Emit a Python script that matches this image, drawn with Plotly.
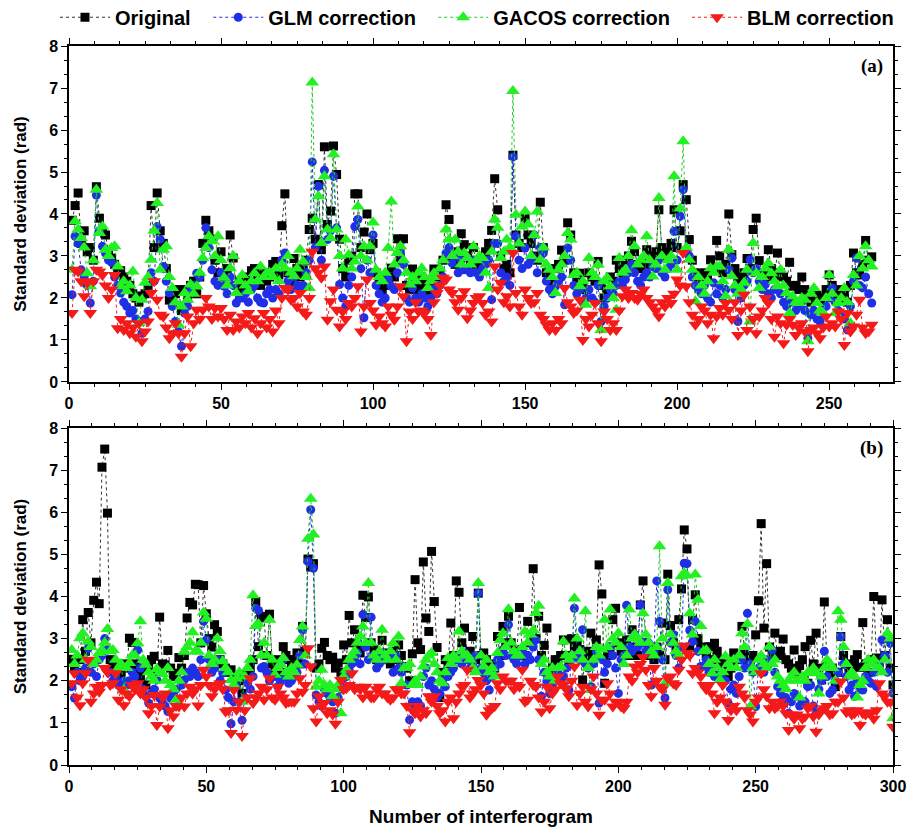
import plotly.graph_objects as go

# ---------------- Panel (a) data: standard deviation (rad), interferograms 1..264
O_a = [3.85, 4.2, 4.5, 3.3, 3.6, 3.1, 3.2, 2.9, 4.65, 3.9,
       3.6, 3.5, 3.1, 2.95, 2.8, 2.6, 2.65, 2.5, 2.4, 2.3,
       2.1, 2.0, 1.9, 2.05, 2.1, 2.3, 4.2, 3.2, 4.5, 3.6,
       3.3, 2.7, 1.95, 1.9, 2.1, 2.2, 1.7, 2.2, 2.0, 2.3,
       2.4, 2.1, 2.5, 3.3, 3.85, 3.6, 3.4, 2.9, 2.6, 3.1,
       2.5, 2.7, 3.5, 2.95, 2.3, 2.4, 2.2, 2.5, 2.4, 2.65,
       2.7, 2.5, 2.3, 2.6, 2.4, 2.5, 2.8, 2.87, 2.55, 3.72,
       4.48, 2.6, 2.4, 2.94, 2.7, 2.5, 2.67, 2.9, 3.63, 3.9,
       3.4, 4.7, 3.15, 5.6, 3.75, 4.07, 5.62, 4.94, 3.4, 2.7,
       2.5, 2.9, 3.0, 4.48, 4.48, 3.2, 3.57, 4.0, 3.15, 3.3,
       2.6, 2.4, 2.2, 2.5, 2.3, 2.71, 2.5, 3.41, 2.9, 3.41,
       2.3, 2.2, 2.69, 2.4, 2.2, 2.5, 2.3, 2.1, 2.4, 2.69,
       2.5, 2.6, 2.9, 4.22, 3.87, 3.0, 2.8, 3.1, 3.53, 3.27,
       3.0, 2.9, 3.2, 2.8, 2.7, 2.9, 3.1, 3.3, 3.61, 4.84,
       4.1, 3.0, 2.7, 2.8, 2.6, 5.4, 3.5, 3.3, 3.2, 3.9,
       3.5, 3.3, 3.0, 2.9, 4.28, 3.2, 2.6, 2.5, 2.4, 2.7,
       2.8, 3.14, 2.9, 3.79, 3.5, 2.6, 2.4, 2.59, 2.3, 2.2,
       2.6, 2.5, 2.4, 2.87, 2.3, 2.0, 2.2, 2.5, 2.4, 2.9,
       2.7, 2.6, 2.9, 3.0, 3.35, 3.1, 2.8, 2.7, 2.9, 3.15,
       2.8, 3.0, 3.1, 4.1, 3.2, 3.0, 3.1, 3.3, 4.1, 3.2,
       3.6, 4.7, 4.34, 3.39, 2.9, 2.6, 2.5, 2.4, 2.6, 2.5,
       2.91, 2.7, 3.37, 3.0, 2.6, 2.8, 4.0, 3.03, 2.7, 2.5,
       2.4, 2.6, 2.94, 2.7, 3.63, 3.9, 2.89, 2.6, 2.5, 3.15,
       2.7, 2.5, 3.07, 2.6, 2.5, 2.4, 2.85, 2.28, 2.3, 2.2,
       2.5, 2.2, 2.0, 1.9, 2.1, 2.06, 2.0, 1.9, 2.2, 2.55,
       2.3, 2.1, 2.2, 2.0, 2.1, 1.9, 2.3, 3.07, 2.6, 2.55,
       2.8, 3.37, 2.9, 2.98]

G_a = [2.08, 3.47, 3.3, 2.67, 2.5, 2.3, 1.88, 2.4, 4.45, 3.6,
       3.23, 3.07, 2.9, 2.85, 2.5, 2.3, 2.12, 1.9, 1.8, 1.64,
       1.7, 1.5, 1.44, 1.16, 1.5, 1.68, 2.6, 2.4, 3.7, 3.4,
       2.75, 2.4, 2.12, 1.8, 1.44, 1.2, 0.85, 1.64, 1.8, 2.2,
       2.3, 2.59, 2.5, 2.9, 3.67, 3.2, 2.67, 2.4, 2.3, 2.6,
       2.28, 2.1, 2.5, 2.3, 1.88, 2.0, 2.0, 2.1, 1.9, 2.2,
       2.3, 2.0, 1.9, 1.88, 2.1, 2.2, 2.0, 2.2, 2.1, 2.9,
       3.07, 2.4, 2.2, 2.5, 2.3, 2.2, 2.3, 2.6, 2.9, 5.24,
       3.2, 4.66, 2.9, 5.04, 3.39, 3.6, 4.9, 3.67, 2.32, 2.0,
       1.8, 2.3, 2.5, 3.7, 3.87, 2.7, 1.53, 2.9, 2.6, 3.5,
       2.3, 2.1, 1.9, 2.0, 2.44, 2.28, 2.2, 2.6, 3.07, 2.8,
       2.0, 1.9, 2.24, 2.0, 1.9, 2.1, 2.0, 1.8, 2.0, 2.2,
       2.1, 2.3, 2.5, 3.07, 3.2, 2.83, 3.0, 2.6, 2.9, 2.67,
       2.7, 2.6, 2.9, 2.6, 2.5, 2.7, 2.8, 2.91, 1.96, 3.3,
       3.3, 2.6, 2.4, 2.5, 2.3, 5.36, 3.47, 2.9, 2.7, 3.19,
       2.8, 2.9, 3.5, 2.6, 3.2, 3.07, 2.4, 2.2, 2.1, 2.28,
       2.4, 2.5, 1.84, 3.19, 2.9, 2.3, 2.1, 2.2, 1.9, 2.0,
       2.2, 2.0, 1.9, 2.3, 1.44, 1.8, 2.0, 2.2, 2.1, 2.3,
       2.4, 2.3, 2.44, 2.6, 2.8, 2.6, 2.4, 2.3, 2.5, 2.6,
       2.5, 2.75, 2.7, 2.9, 2.6, 2.5, 2.7, 2.8, 3.59, 2.9,
       3.95, 4.58, 3.15, 3.0, 2.5, 2.3, 2.2, 2.1, 2.3, 2.0,
       1.9, 2.36, 2.1, 2.3, 2.0, 2.2, 2.67, 2.95, 2.2, 1.44,
       2.0, 2.3, 2.4, 2.91, 2.6, 2.7, 2.4, 2.2, 2.32, 2.1,
       2.0, 2.2, 2.24, 2.1, 1.9, 1.8, 2.0, 1.9, 1.7, 1.8,
       1.9, 1.7, 1.04, 1.6, 1.7, 1.5, 1.44, 1.6, 1.8, 2.0,
       2.24, 1.9, 1.7, 1.6, 1.5, 1.24, 1.8, 2.4, 2.95, 2.3,
       2.24, 2.5, 2.1, 1.88]

C_a = [2.67, 3.83, 3.63, 3.43, 3.2, 2.59, 2.28, 2.9, 4.58, 3.55,
       3.7, 3.15, 3.0, 3.19, 3.23, 2.75, 2.28, 2.4, 2.16, 2.3,
       2.63, 2.0, 1.4, 1.96, 2.36, 2.5, 2.91, 3.6, 4.26, 2.67,
       3.15, 3.23, 2.5, 2.24, 1.9, 1.36, 1.8, 2.12, 1.96, 2.32,
       2.1, 2.28, 2.6, 2.95, 3.19, 3.47, 3.35, 3.0, 3.47, 2.9,
       2.48, 2.3, 2.71, 3.0, 2.12, 2.4, 2.55, 2.3, 2.16, 2.4,
       2.59, 2.4, 2.75, 2.5, 2.59, 2.6, 2.5, 2.7, 2.4, 2.8,
       2.71, 3.0, 2.6, 2.52, 2.7, 3.15, 2.87, 2.5, 2.24, 7.13,
       3.87, 4.42, 3.31, 4.9, 3.63, 3.43, 5.42, 3.63, 3.0, 2.7,
       3.39, 3.03, 2.7, 2.87, 4.18, 3.0, 3.23, 2.9, 3.23, 3.8,
       2.67, 2.5, 2.4, 2.6, 3.19, 4.3, 2.8, 3.07, 3.23, 2.9,
       2.6, 2.32, 2.5, 2.4, 2.6, 2.71, 2.5, 2.24, 2.4, 2.59,
       2.5, 2.7, 2.9, 3.63, 3.39, 3.0, 3.39, 3.1, 2.8, 3.07,
       2.95, 2.8, 3.23, 2.9, 3.0, 2.95, 2.6, 2.24, 3.1, 3.87,
       3.67, 2.95, 3.1, 3.39, 3.2, 6.93, 3.98, 3.3, 3.7, 4.06,
       3.75, 3.0, 3.5, 4.06, 2.91, 3.2, 2.8, 2.67, 2.5, 2.12,
       2.67, 2.8, 3.0, 3.55, 3.39, 2.55, 2.6, 2.28, 2.4, 1.84,
       2.95, 2.6, 2.5, 2.79, 1.24, 2.4, 2.48, 2.28, 2.0, 1.72,
       2.95, 2.6, 2.67, 3.0, 3.61, 3.23, 2.8, 2.91, 3.0, 3.47,
       2.9, 2.51, 2.8, 4.38, 3.0, 2.67, 2.9, 3.0, 4.9, 2.67,
       4.13, 5.73, 3.2, 2.91, 2.67, 1.92, 2.5, 2.3, 2.1, 2.4,
       2.71, 2.6, 2.75, 2.75, 2.4, 2.04, 3.15, 2.52, 2.3, 2.1,
       2.2, 2.36, 2.67, 1.44, 3.31, 2.59, 2.24, 2.5, 2.7, 2.83,
       2.59, 2.4, 2.28, 2.67, 2.3, 2.12, 1.64, 2.04, 1.9, 1.88,
       2.0, 1.96, 0.97, 2.1, 2.24, 1.88, 1.7, 1.64, 2.0, 2.55,
       2.1, 1.64, 1.88, 2.0, 2.24, 1.9, 1.4, 2.55, 2.3, 3.0,
       2.7, 3.23, 2.9, 2.75]

B_a = [1.64, 2.67, 2.63, 2.4, 2.04, 2.36, 1.64, 2.4, 2.67, 2.63,
       2.55, 2.3, 2.0, 2.2, 2.55, 1.28, 1.5, 1.24, 1.4, 1.16,
       1.3, 1.08, 1.4, 0.97, 1.2, 1.44, 2.12, 2.4, 1.96, 1.6,
       1.56, 1.3, 1.04, 1.16, 1.4, 1.16, 0.6, 1.16, 1.56, 0.85,
       1.4, 1.72, 1.5, 1.72, 2.0, 1.8, 1.5, 1.76, 1.56, 1.76,
       1.5, 1.24, 1.6, 1.24, 1.44, 1.3, 1.56, 1.4, 1.64, 1.3,
       1.52, 1.16, 1.4, 1.64, 1.3, 1.5, 1.2, 1.7, 1.4, 2.0,
       2.24, 2.2, 1.96, 2.0, 1.8, 2.12, 1.68, 1.6, 2.0, 3.1,
       2.71, 2.6, 2.48, 2.75, 1.48, 1.92, 2.2, 1.72, 1.32, 1.68,
       1.5, 1.88, 1.8, 2.0, 2.28, 1.2, 1.8, 2.44, 1.88, 1.7,
       1.36, 1.56, 1.4, 1.32, 1.8, 1.6, 1.48, 1.8, 2.28, 2.04,
       0.97, 1.68, 1.5, 1.9, 1.68, 1.7, 1.64, 1.5, 1.12, 1.9,
       2.12, 2.3, 2.48, 2.44, 2.2, 2.12, 1.9, 1.72, 2.0, 2.16,
       1.52, 1.7, 1.88, 2.0, 2.04, 1.88, 1.6, 1.68, 1.44, 2.75,
       2.2, 2.36, 1.9, 2.04, 1.8, 3.07, 2.12, 1.8, 1.6, 2.2,
       2.0, 1.88, 1.9, 2.12, 1.6, 1.5, 1.36, 1.24, 1.4, 1.24,
       1.5, 1.4, 2.24, 1.9, 1.8, 1.64, 1.7, 1.96, 1.0, 1.5,
       1.32, 1.6, 1.88, 1.4, 0.97, 1.68, 1.5, 1.24, 1.4, 1.24,
       1.7, 2.04, 2.2, 2.0, 2.12, 2.0, 1.96, 2.1, 2.2, 2.0,
       1.9, 1.8, 1.7, 1.56, 1.9, 1.8, 2.0, 1.88, 2.1, 2.44,
       2.3, 3.07, 2.28, 1.9, 1.6, 1.36, 1.5, 1.8, 1.7, 1.4,
       1.6, 1.04, 1.56, 1.76, 1.6, 1.88, 1.72, 1.5, 1.9, 1.12,
       1.7, 2.08, 1.24, 1.8, 1.5, 1.16, 1.56, 1.7, 2.0, 1.88,
       1.5, 1.08, 1.56, 1.4, 0.92, 1.36, 1.5, 1.36, 1.12, 1.3,
       1.4, 1.2, 0.73, 1.24, 1.3, 1.16, 1.04, 1.3, 1.56, 1.32,
       1.4, 1.32, 1.68, 1.5, 0.88, 1.64, 1.2, 1.32, 1.6, 1.96,
       1.3, 1.16, 1.2, 1.36]

# ---------------- Panel (b) data: interferograms 1..300
O_b = [2.51, 2.3, 2.2, 2.5, 3.45, 2.7, 3.62, 2.9, 3.91, 4.34,
       3.83, 7.07, 7.5, 5.98, 2.5, 2.4, 2.3, 2.2, 2.1, 2.4,
       2.3, 3.01, 2.91, 2.4, 2.2, 2.1, 2.3, 1.9, 2.34, 2.5,
       2.58, 2.2, 3.51, 2.4, 2.38, 2.72, 2.3, 2.1, 2.18, 2.55,
       2.3, 2.6, 3.49, 3.86, 3.8, 4.29, 4.28, 2.9, 4.26, 3.59,
       3.0, 2.8, 3.33, 3.17, 2.5, 2.4, 2.3, 2.2, 2.26, 2.1,
       1.9, 2.0, 1.7, 2.1, 2.2, 2.3, 2.5, 3.88, 2.81, 3.53,
       3.49, 2.6, 3.58, 2.4, 2.3, 2.5, 2.2, 2.81, 2.6, 2.5,
       2.3, 2.5, 2.66, 2.4, 3.29, 2.7, 4.89, 4.7, 4.78, 2.3,
       2.4, 2.77, 2.91, 2.6, 2.5, 2.56, 2.3, 2.42, 2.2, 2.85,
       2.5, 3.55, 2.9, 3.21, 2.8, 2.66, 4.03, 3.5, 3.99, 2.9,
       2.74, 2.5, 2.6, 2.96, 2.5, 2.66, 2.4, 2.7, 2.5, 2.85,
       2.6, 2.34, 2.3, 2.0, 2.64, 4.4, 2.9, 2.74, 4.82, 3.49,
       3.17, 5.07, 3.88, 2.79, 1.6, 2.2, 2.5, 2.4, 3.37, 2.6,
       4.37, 4.1, 2.9, 3.25, 2.6, 2.7, 3.05, 2.5, 4.08, 2.6,
       2.66, 2.5, 2.4, 2.34, 2.3, 3.05, 2.6, 3.29, 2.9, 3.53,
       2.9, 2.7, 2.6, 3.74, 2.74, 2.6, 3.41, 2.9, 4.66, 3.0,
       3.53, 2.6, 2.84, 3.25, 2.1, 2.3, 2.5, 2.5, 2.6, 2.97,
       2.6, 2.4, 3.0, 2.8, 2.9, 2.74, 2.02, 2.5, 2.7, 3.13,
       2.6, 2.97, 4.75, 4.06, 1.94, 2.6, 2.8, 3.45, 3.72, 2.9,
       2.7, 2.8, 2.97, 2.6, 3.21, 2.8, 2.6, 3.8, 4.37, 2.9,
       2.6, 2.74, 2.5, 2.8, 2.6, 3.37, 2.5, 4.53, 3.31, 2.9,
       2.7, 3.45, 4.18, 5.58, 5.13, 2.8, 3.45, 4.04, 3.0, 2.8,
       2.73, 2.6, 2.81, 2.5, 2.89, 2.7, 2.5, 2.34, 2.4, 2.1,
       2.3, 2.66, 2.5, 2.6, 3.29, 2.7, 2.5, 2.4, 2.6, 3.09,
       3.9, 5.73, 3.25, 4.78, 2.8, 2.6, 3.13, 2.6, 2.7, 2.99,
       2.5, 2.4, 2.3, 2.73, 2.2, 2.36, 2.5, 2.81, 1.94, 2.96,
       2.4, 3.13, 2.3, 2.02, 3.87, 2.4, 2.18, 2.3, 1.86, 2.2,
       3.05, 2.6, 2.4, 2.18, 2.3, 2.5, 2.62, 2.32, 3.38, 2.4,
       2.2, 2.5, 4.0, 2.54, 2.3, 3.92, 2.6, 3.45, 2.3, 1.9]

G_b = [1.86, 1.59, 2.2, 2.0, 2.1, 2.3, 2.77, 2.2, 2.4, 2.1,
       2.5, 2.6, 3.0, 2.74, 2.2, 2.0, 2.1, 1.9, 1.94, 2.0,
       1.9, 2.0, 2.2, 2.1, 2.73, 2.3, 1.8, 1.63, 1.47, 1.7,
       1.8, 2.02, 1.59, 1.5, 1.4, 1.27, 1.59, 1.7, 1.8, 1.55,
       1.9, 2.02, 2.2, 2.1, 2.3, 2.2, 2.1, 2.5, 3.41, 2.97,
       2.5, 2.2, 2.3, 2.5, 2.0, 2.18, 1.78, 1.6, 0.98, 1.5,
       1.86, 1.5, 1.06, 1.6, 1.94, 1.8, 2.1, 3.72, 3.67, 2.3,
       2.34, 2.2, 2.0, 2.1, 2.1, 1.86, 2.0, 2.5, 2.1, 1.94,
       2.0, 2.1, 2.2, 2.6, 3.21, 2.4, 4.83, 6.06, 4.67, 1.66,
       1.5, 1.4, 1.8, 1.7, 1.6, 1.5, 1.23, 1.6, 1.8, 1.9,
       2.1, 2.26, 2.4, 2.5, 2.66, 2.4, 3.57, 2.8, 2.5, 3.51,
       2.6, 2.3, 2.4, 2.66, 2.5, 2.6, 2.6, 2.2, 2.6, 2.3,
       2.2, 2.34, 1.9, 1.07, 1.5, 1.39, 1.5, 1.4, 2.1, 2.3,
       1.9, 2.0, 1.8, 1.6, 1.7, 2.0, 1.86, 2.1, 2.2, 2.3,
       2.5, 2.6, 2.4, 2.66, 2.5, 2.3, 2.4, 2.6, 4.08, 2.3,
       2.18, 2.0, 1.78, 2.1, 2.3, 2.5, 2.4, 2.74, 2.6, 3.33,
       2.6, 2.5, 2.4, 2.58, 2.7, 2.4, 2.6, 2.5, 2.8, 2.97,
       2.5, 1.63, 2.2, 2.0, 1.7, 1.9, 2.1, 2.2, 2.0, 2.1,
       2.3, 1.78, 2.5, 3.72, 2.6, 2.5, 3.21, 2.4, 2.3, 1.86,
       2.4, 2.7, 1.47, 2.5, 2.2, 2.4, 2.81, 2.6, 2.3, 1.7,
       2.5, 2.6, 3.79, 2.8, 2.7, 3.1, 2.8, 3.8, 2.9, 2.7,
       2.9, 1.9, 2.7, 4.37, 3.41, 2.5, 1.59, 4.16, 2.9, 3.1,
       2.6, 2.3, 2.8, 4.79, 4.78, 3.2, 2.93, 3.41, 2.7, 2.34,
       2.34, 2.5, 2.2, 2.3, 2.1, 2.2, 2.1, 1.94, 2.0, 1.47,
       1.8, 1.9, 1.7, 2.1, 2.5, 2.3, 3.6, 2.4, 2.2, 1.39,
       2.3, 2.34, 2.2, 2.5, 2.4, 2.73, 2.2, 1.86, 1.7, 1.55,
       1.6, 1.23, 1.5, 1.7, 1.63, 1.4, 1.5, 1.5, 1.86, 1.9,
       1.4, 1.23, 1.8, 2.0, 2.7, 2.1, 1.7, 1.78, 2.0, 2.2,
       3.05, 2.4, 2.1, 1.78, 1.9, 1.63, 2.0, 1.8, 1.78, 2.1,
       2.0, 1.94, 2.2, 1.86, 2.4, 2.97, 2.6, 2.2, 2.89, 1.7]

C_b = [2.73, 2.4, 2.6, 3.01, 3.13, 2.5, 2.93, 2.8, 2.4, 2.5,
       2.66, 2.73, 2.9, 3.23, 2.7, 2.73, 2.5, 2.3, 2.4, 1.78,
       2.3, 2.42, 2.6, 2.6, 2.89, 3.41, 2.5, 2.38, 2.2, 2.1,
       2.0, 2.28, 2.2, 2.16, 2.0, 2.3, 1.9, 1.8, 1.55, 2.0,
       2.2, 2.69, 2.8, 2.9, 3.15, 2.7, 2.69, 2.9, 3.62, 3.47,
       2.6, 2.4, 2.5, 3.01, 2.7, 2.46, 2.3, 2.2, 2.02, 1.9,
       2.05, 2.2, 1.5, 2.1, 2.3, 2.5, 4.03, 3.3, 3.35, 2.6,
       2.9, 2.6, 3.45, 2.5, 2.14, 2.3, 2.4, 2.54, 2.2, 2.1,
       2.3, 2.2, 2.38, 2.97, 3.29, 2.6, 5.37, 6.32, 5.47, 1.86,
       2.0, 2.26, 1.9, 1.8, 1.9, 1.63, 1.8, 1.9, 1.23, 2.1,
       2.26, 2.5, 2.6, 2.7, 2.9, 3.05, 3.29, 2.9, 4.32, 2.9,
       2.6, 2.5, 2.7, 3.21, 2.6, 2.5, 2.7, 2.89, 2.5, 3.05,
       1.94, 2.3, 2.3, 2.4, 1.9, 2.0, 1.9, 2.1, 2.34, 2.5,
       2.6, 2.66, 2.4, 2.2, 2.0, 1.94, 2.2, 2.54, 2.4, 2.6,
       2.5, 3.17, 2.7, 2.6, 2.6, 2.5, 2.3, 2.2, 4.32, 2.6,
       2.34, 2.5, 2.2, 2.3, 2.1, 2.66, 2.97, 3.13, 2.8, 3.7,
       2.9, 2.7, 2.6, 2.6, 2.8, 3.17, 2.9, 3.1, 3.2, 3.61,
       3.78, 2.4, 2.5, 2.2, 2.1, 2.3, 2.0, 2.3, 2.34, 2.93,
       2.6, 2.5, 2.6, 3.95, 3.0, 2.7, 2.5, 3.65, 2.3, 1.78,
       2.5, 2.8, 2.6, 2.74, 3.45, 2.8, 3.69, 3.0, 2.9, 3.13,
       2.8, 2.4, 2.6, 3.69, 3.0, 3.1, 3.0, 2.9, 3.6, 3.1,
       2.9, 2.7, 2.6, 2.8, 5.19, 3.0, 1.94, 4.32, 3.1, 2.9,
       2.7, 2.6, 4.48, 4.56, 4.5, 3.6, 3.1, 4.52, 3.92, 3.3,
       2.7, 2.73, 2.4, 2.18, 2.5, 2.3, 2.02, 2.2, 2.58, 2.4,
       2.3, 2.5, 2.3, 2.6, 3.13, 2.8, 3.35, 1.39, 2.3, 2.2,
       2.5, 2.6, 2.4, 2.3, 2.81, 2.4, 2.5, 2.1, 2.0, 1.9,
       1.8, 2.0, 2.1, 2.2, 2.0, 1.6, 2.1, 2.0, 2.2, 2.18,
       2.3, 2.2, 1.7, 2.1, 2.3, 2.5, 2.4, 2.3, 2.0, 3.65,
       3.45, 2.8, 2.4, 2.1, 2.2, 2.1, 1.6, 1.9, 2.0, 2.3,
       2.5, 2.4, 2.5, 2.3, 2.3, 2.2, 2.5, 3.13, 3.0, 1.11]

B_b = [1.94, 2.18, 1.6, 1.42, 1.94, 2.18, 2.5, 1.5, 1.7, 1.86,
       1.74, 1.9, 2.3, 2.2, 1.9, 1.94, 2.18, 1.55, 1.8, 1.42,
       1.7, 1.63, 1.9, 1.8, 1.94, 1.7, 1.8, 1.6, 1.23, 1.4,
       1.66, 0.95, 1.39, 1.6, 1.7, 0.87, 1.3, 1.15, 1.4, 1.39,
       1.6, 1.39, 1.7, 1.86, 1.7, 1.8, 1.41, 1.9, 2.26, 2.1,
       1.9, 1.63, 1.8, 1.9, 1.94, 1.8, 1.27, 1.3, 0.76, 1.78,
       1.31, 1.5, 0.69, 1.3, 1.6, 2.06, 1.47, 1.6, 1.7, 1.86,
       1.55, 1.8, 2.06, 1.6, 1.55, 1.86, 1.7, 1.6, 1.47, 1.5,
       1.5, 1.5, 1.7, 2.06, 1.74, 1.9, 2.77, 2.34, 1.35, 1.03,
       1.63, 1.4, 1.47, 1.23, 1.3, 1.2, 0.98, 1.5, 2.02, 1.8,
       1.82, 1.9, 2.18, 1.8, 1.86, 1.8, 1.6, 1.86, 1.7, 1.6,
       1.6, 1.8, 1.86, 1.7, 1.7, 1.6, 1.55, 1.6, 1.8, 1.8,
       1.7, 1.7, 1.4, 0.78, 1.3, 1.23, 1.4, 1.15, 1.3, 1.23,
       1.63, 1.5, 1.63, 1.4, 1.23, 1.3, 1.03, 1.5, 1.6, 1.11,
       1.5, 1.7, 1.86, 1.9, 2.26, 1.6, 1.7, 1.8, 2.02, 1.9,
       1.7, 1.19, 1.3, 1.35, 1.4, 1.94, 1.8, 2.1, 2.0, 2.0,
       2.0, 1.8, 1.9, 1.86, 2.26, 1.5, 1.55, 2.0, 1.9, 1.86,
       1.6, 1.27, 1.5, 1.86, 1.35, 1.7, 1.8, 2.1, 1.94, 1.9,
       1.8, 1.63, 2.0, 2.34, 1.42, 1.7, 1.86, 1.5, 1.39, 1.8,
       2.1, 1.7, 1.19, 1.55, 1.55, 1.94, 1.7, 1.39, 1.5, 1.47,
       1.39, 1.35, 1.5, 2.1, 2.0, 2.34, 2.2, 2.4, 2.56, 2.26,
       1.9, 1.63, 2.3, 2.0, 1.86, 1.8, 1.43, 2.06, 2.1, 1.94,
       1.9, 2.26, 2.5, 2.83, 2.66, 2.6, 2.18, 2.3, 2.2, 2.1,
       1.9, 1.8, 1.9, 1.7, 1.23, 1.5, 1.6, 1.9, 1.5, 1.07,
       1.3, 1.4, 1.3, 1.86, 1.7, 1.6, 1.3, 1.2, 1.03, 1.5,
       1.6, 2.18, 1.8, 1.63, 1.35, 1.5, 1.35, 1.4, 1.5, 1.4,
       1.23, 0.83, 1.2, 1.1, 1.2, 0.87, 1.1, 1.15, 1.35, 1.4,
       1.15, 0.79, 1.2, 1.3, 1.35, 1.4, 1.2, 1.23, 1.5, 1.5,
       1.98, 1.6, 1.25, 1.3, 1.2, 1.23, 1.3, 0.95, 1.23, 1.2,
       1.25, 1.23, 1.1, 1.3, 1.94, 1.7, 1.63, 1.5, 1.5, 0.91]

SERIES_NAMES = ["Original", "GLM correction", "GACOS correction", "BLM correction"]
PANEL_LABELS = ["(a)", "(b)"]
X_TITLE = "Number of interferogram"
Y_TITLE = "Standard deviation (rad)"

styles = [
    dict(color="#000000", line="#333333", symbol="square", size=9),
    dict(color="#1f2fe6", line="#1f2fe6", symbol="circle", size=9),
    dict(color="#22f022", line="#22cc22", symbol="triangle-up", size=12),
    dict(color="#f51a1a", line="#f51a1a", symbol="triangle-down", size=12),
]
legend_ids = ["legend", "legend2", "legend3", "legend4"]
legend_x = [-0.017, 0.169, 0.442, 0.750]   # left edges of the four legend entries (paper units)

fig = go.Figure()
panels = [([O_a, G_a, C_a, B_a], "x", "y"), ([O_b, G_b, C_b, B_b], "x2", "y2")]
for p, (series, xa, ya) in enumerate(panels):
    for i, (name, vals, st) in enumerate(zip(SERIES_NAMES, series, styles)):
        fig.add_trace(go.Scatter(
            x=list(range(1, len(vals) + 1)), y=vals, name=name,
            mode="lines+markers", xaxis=xa, yaxis=ya,
            legend=legend_ids[i], legendgroup=name, showlegend=(p == 0),
            line=dict(color=st["line"], width=1, dash="dot"),
            marker=dict(symbol=st["symbol"], size=st["size"], color=st["color"],
                        line=dict(width=0)),
        ))

tickfont = dict(family="Liberation Sans, Arial", size=16, color="black", weight="bold")
titlefont = dict(family="Liberation Sans, Arial", size=17, color="black", weight="bold")

def xax(rng, anchor, title=None):
    d = dict(range=rng, anchor=anchor, showline=True, linecolor="black", linewidth=1.5,
             mirror="ticks", ticks="outside", ticklen=6, tickwidth=1.3, tickcolor="black",
             tick0=0, dtick=50, showgrid=False, zeroline=False, tickfont=tickfont,
             minor=dict(ticks="outside", ticklen=3, dtick=50 / 6, tickcolor="black",
                        tickwidth=1, showgrid=False))
    if title:
        d["title"] = dict(text=title, font=dict(family="Liberation Sans, Arial", size=19,
                                                  color="black", weight="bold"), standoff=16)
    return d

def yax(domain, anchor):
    return dict(range=[0, 8], domain=domain, anchor=anchor, showline=True, linecolor="black",
                linewidth=1.5, mirror="ticks", ticks="outside", ticklen=6, tickwidth=1.3,
                tickcolor="black", tick0=0, dtick=1, showgrid=False, zeroline=False,
                tickfont=tickfont,
                minor=dict(ticks="outside", ticklen=3, dtick=1 / 3, tickcolor="black",
                           tickwidth=1, showgrid=False),
                title=dict(text=Y_TITLE, font=titlefont, standoff=18))

legend_font = dict(family="Liberation Sans, Arial", size=20, color="black", weight="bold")
layout_legends = {}
for lid, lx in zip(legend_ids, legend_x):
    layout_legends[lid] = dict(orientation="h", x=lx, xanchor="left", y=1.04, yanchor="middle",
                               font=legend_font, itemwidth=50, bgcolor="rgba(0,0,0,0)",
                               borderwidth=0)

fig.update_layout(
    width=911, height=830,
    margin=dict(l=69, r=18, t=46, b=65, autoexpand=False),
    paper_bgcolor="white", plot_bgcolor="white",
    xaxis=xax([0, 271], "y"),
    xaxis2=xax([0, 300], "y2", X_TITLE),
    yaxis=yax([0.5327, 1.0], "x"),
    yaxis2=yax([0.0, 0.4687], "x2"),
    showlegend=True,
    **layout_legends,
)

for lab, xr, yr in [(PANEL_LABELS[0], "x domain", "y domain"), (PANEL_LABELS[1], "x2 domain", "y2 domain")]:
    fig.add_annotation(text="<b>" + lab + "</b>", xref=xr, yref=yr, x=0.99, y=0.98,
                       xanchor="right", yanchor="top", showarrow=False,
                       font=dict(family="Liberation Serif, Times New Roman", size=19, color="black"))

fig.write_html("out.html")
